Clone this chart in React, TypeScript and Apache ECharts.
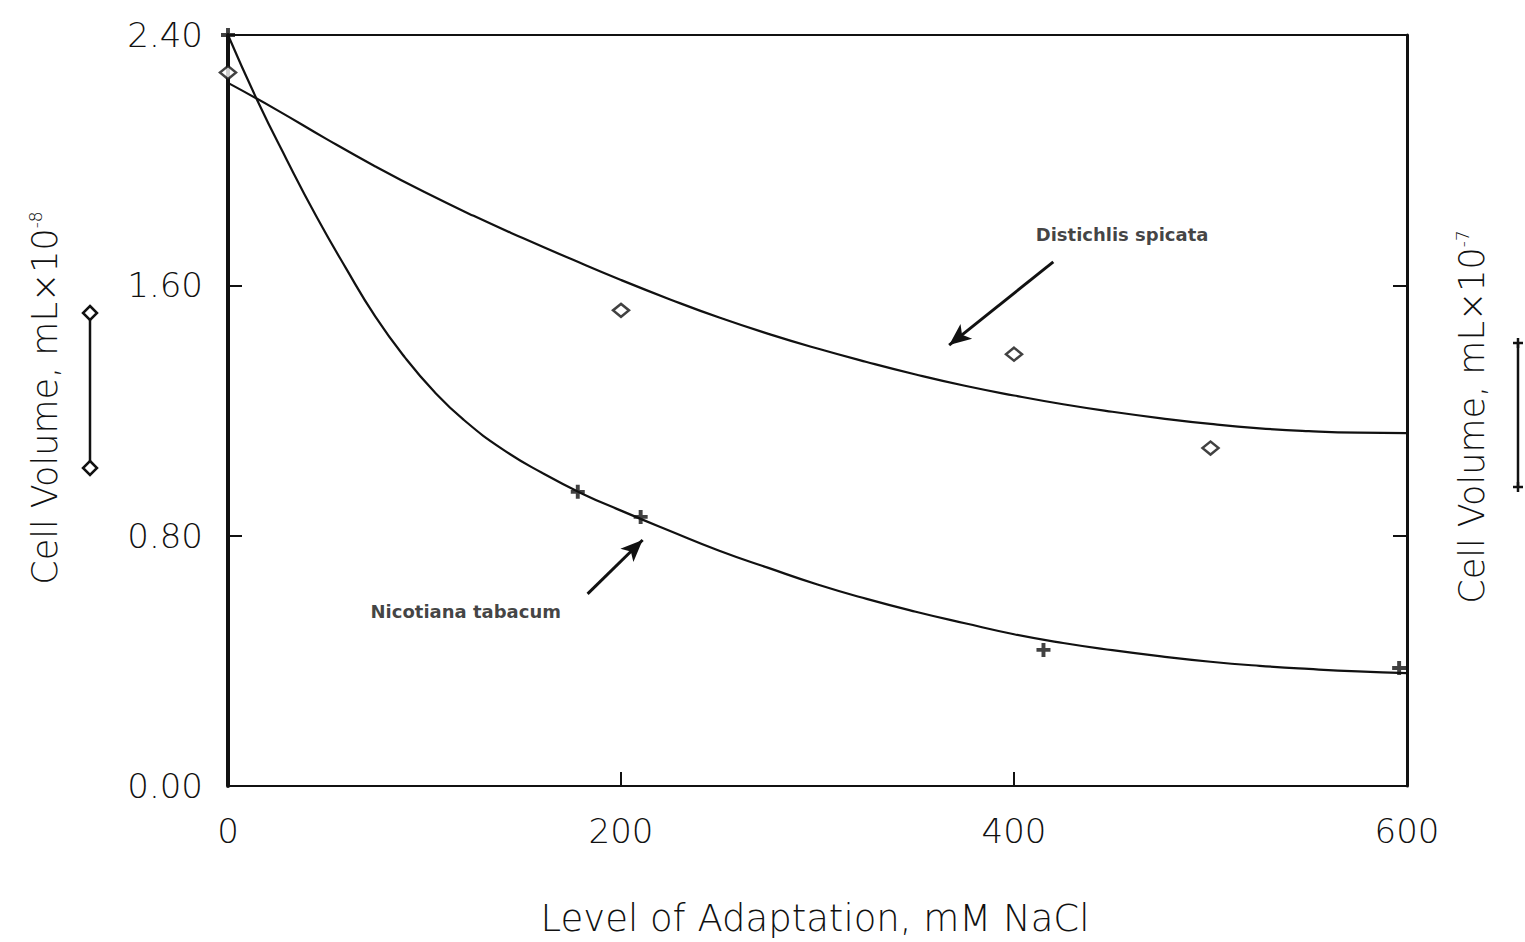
import React, { useEffect, useRef } from "react";
import * as echarts from "echarts";

// ---- Data ----
const xTicks = [0, 200, 400, 600];
const yTickLabels = ["0.00", "0.80", "1.60", "2.40"];

// Distichlis spicata: measured points (diamonds)
const distichlisPoints: [number, number][] = [
  [0, 2.28],
  [200, 1.52],
  [400, 1.38],
  [500, 1.08],
];
// Distichlis spicata: fitted curve
const distichlisCurveX = [0, 25, 50, 75, 100, 125, 150, 175, 200, 225, 250, 275, 300, 325, 350, 375, 400, 425, 450, 475, 500, 525, 550, 575, 600];
const distichlisCurveY = [2.247, 2.16, 2.068, 1.98, 1.898, 1.822, 1.751, 1.683, 1.617, 1.555, 1.497, 1.445, 1.398, 1.355, 1.315, 1.279, 1.248, 1.22, 1.196, 1.175, 1.157, 1.143, 1.134, 1.129, 1.128];

// Nicotiana tabacum: measured points (crosses)
const nicotianaPoints: [number, number][] = [
  [0, 2.4],
  [178, 0.94],
  [210, 0.86],
  [415, 0.435],
  [596, 0.377],
];
// Nicotiana tabacum: fitted curve
const nicotianaCurveX = [0, 15, 30, 45, 60, 75, 90, 105, 120, 140, 160, 180, 200, 225, 250, 275, 300, 325, 350, 375, 400, 425, 450, 475, 500, 525, 550, 575, 600];
const nicotianaCurveY = [2.4, 2.19, 2.0, 1.82, 1.655, 1.5, 1.37, 1.26, 1.17, 1.075, 1.0, 0.935, 0.88, 0.815, 0.752, 0.697, 0.644, 0.598, 0.557, 0.52, 0.485, 0.457, 0.434, 0.414, 0.397, 0.384, 0.374, 0.366, 0.361];

// annotation anchors (data coordinates)
const distichlisLabel: [number, number] = [455, 1.764];
const distichlisArrow: [[number, number], [number, number]] = [[420, 1.675], [367, 1.409]];
const nicotianaLabel: [number, number] = [121, 0.559];
const nicotianaArrow: [[number, number], [number, number]] = [[183, 0.614], [211, 0.786]];

const FONT = "DejaVu Sans";
const INK = "#111";

const plus = "path://M3.6,0H6.4V3.6H10V6.4H6.4V10H3.6V6.4H0V3.6H3.6Z";

export default function App() {
  const ref = useRef<HTMLDivElement>(null);
  useEffect(() => {
    if (!ref.current) return;
    const chart = echarts.init(ref.current, null, { renderer: "svg" });
    const zip = (xs: number[], ys: number[]) => xs.map((x, i) => [x, ys[i]]);
    const option: any = {
      animation: false,
      backgroundColor: "#fff",
      grid: { left: 228, right: 118, top: 35, bottom: 156, containLabel: false },
      xAxis: [
        {
          type: "value",
          min: 0,
          max: 600,
          interval: 200,
          position: "bottom",
          axisLine: { show: true, lineStyle: { color: INK, width: 2 } },
          axisTick: { show: true, inside: true, length: 14, lineStyle: { color: INK, width: 2 } },
          axisLabel: {
            show: true,
            margin: 28,
            fontFamily: FONT,
            fontSize: 34,
            fontWeight: 200,
            color: INK,
            formatter: (v: number) => (xTicks.includes(v) ? String(v) : ""),
          },
          splitLine: { show: false },
        },
        {
          type: "value",
          min: 0,
          max: 600,
          position: "top",
          axisLine: { show: true, onZero: false, lineStyle: { color: INK, width: 2 } },
          axisTick: { show: false },
          axisLabel: { show: false },
          splitLine: { show: false },
        },
      ],
      yAxis: [
        {
          type: "value",
          min: 0,
          max: 2.4,
          interval: 0.8,
          position: "left",
          axisLine: { show: true, lineStyle: { color: INK, width: 4 } },
          axisTick: { show: true, inside: true, length: 14, lineStyle: { color: INK, width: 2 } },
          axisLabel: {
            show: true,
            margin: 25,
            fontFamily: FONT,
            fontSize: 34,
            fontWeight: 200,
            color: INK,
            formatter: (_v: number, i: number) => yTickLabels[i],
          },
          splitLine: { show: false },
        },
        {
          type: "value",
          min: 0,
          max: 2.4,
          interval: 0.8,
          position: "right",
          axisLine: { show: true, onZero: false, lineStyle: { color: INK, width: 3 } },
          axisTick: { show: true, inside: true, length: 14, lineStyle: { color: INK, width: 2 } },
          axisLabel: { show: false },
          splitLine: { show: false },
        },
      ],
      series: [
        {
          type: "line",
          name: "Distichlis spicata fit",
          data: zip(distichlisCurveX, distichlisCurveY),
          smooth: 0.5,
          showSymbol: false,
          lineStyle: { color: INK, width: 2.2 },
        },
        {
          type: "line",
          name: "Nicotiana tabacum fit",
          data: zip(nicotianaCurveX, nicotianaCurveY),
          smooth: 0.5,
          showSymbol: false,
          lineStyle: { color: INK, width: 2.2 },
        },
        {
          type: "scatter",
          name: "Distichlis spicata",
          data: distichlisPoints,
          symbol: "diamond",
          symbolSize: [16, 13],
          itemStyle: { color: "#fff", borderColor: INK, borderWidth: 2.5 },
          z: 5,
        },
        {
          type: "scatter",
          name: "Nicotiana tabacum",
          data: nicotianaPoints,
          symbol: plus,
          symbolSize: 14,
          itemStyle: { color: INK },
          z: 5,
        },
        {
          type: "scatter",
          name: "annotations",
          symbolSize: 0,
          silent: true,
          data: [
            { value: distichlisLabel, label: { formatter: "Distichlis spicata" } },
            { value: nicotianaLabel, label: { formatter: "Nicotiana tabacum" } },
          ],
          label: {
            show: true,
            position: "inside",
            fontFamily: FONT,
            fontWeight: "bold",
            fontSize: 18,
            color: INK,
          },
          markLine: {
            silent: true,
            symbol: ["none", "arrow"],
            symbolSize: [14, 22],
            label: { show: false },
            lineStyle: { color: INK, width: 3, type: "solid" },
            data: [
              [{ coord: distichlisArrow[0] }, { coord: distichlisArrow[1] }],
              [{ coord: nicotianaArrow[0] }, { coord: nicotianaArrow[1] }],
            ],
          },
        },
      ],
      graphic: [
        {
          type: "text",
          x: 815,
          y: 918,
          style: {
            text: "Level of Adaptation, mM NaCl",
            fontFamily: FONT,
            fontSize: 37,
            fontWeight: 200,
            fill: INK,
            align: "center",
            verticalAlign: "middle",
          },
        },
        {
          type: "text",
          x: 45,
          y: 398,
          rotation: Math.PI / 2,
          style: {
            text: "{a|Cell Volume, mL×10}{s|-8}",
            align: "center",
            verticalAlign: "middle",
            rich: {
              a: { fontFamily: FONT, fontSize: 35, fontWeight: 200, fill: INK, color: INK },
              s: { fontFamily: FONT, fontSize: 17, fontWeight: 200, fill: INK, color: INK, verticalAlign: "top" },
            },
          },
        },
        {
          type: "text",
          x: 1472,
          y: 417,
          rotation: Math.PI / 2,
          style: {
            text: "{a|Cell Volume, mL×10}{s|-7}",
            align: "center",
            verticalAlign: "middle",
            rich: {
              a: { fontFamily: FONT, fontSize: 35, fontWeight: 200, fill: INK, color: INK },
              s: { fontFamily: FONT, fontSize: 17, fontWeight: 200, fill: INK, color: INK, verticalAlign: "top" },
            },
          },
        },
        // left key: diamond — line — diamond
        { type: "line", shape: { x1: 90, y1: 320, x2: 90, y2: 461 }, style: { stroke: INK, lineWidth: 2.5 } },
        { type: "polygon", shape: { points: [[90, 306], [97, 313], [90, 320], [83, 313]] }, style: { fill: "#fff", stroke: INK, lineWidth: 2.5 } },
        { type: "polygon", shape: { points: [[90, 461], [97, 468], [90, 475], [83, 468]] }, style: { fill: "#fff", stroke: INK, lineWidth: 2.5 } },
        // right key: cross — line — cross
        { type: "line", shape: { x1: 1518, y1: 343, x2: 1518, y2: 487 }, style: { stroke: INK, lineWidth: 2.5 } },
        { type: "line", shape: { x1: 1513, y1: 343, x2: 1523, y2: 343 }, style: { stroke: INK, lineWidth: 2.5 } },
        { type: "line", shape: { x1: 1513, y1: 487, x2: 1523, y2: 487 }, style: { stroke: INK, lineWidth: 2.5 } },
        { type: "line", shape: { x1: 1518, y1: 338, x2: 1518, y2: 348 }, style: { stroke: INK, lineWidth: 2.5 } },
        { type: "line", shape: { x1: 1518, y1: 482, x2: 1518, y2: 492 }, style: { stroke: INK, lineWidth: 2.5 } },
      ],
    };
    chart.setOption(option);
    return () => chart.dispose();
  }, []);
  return (
    <div
      ref={ref}
      style={{ position: "fixed", left: 0, top: 0, width: 1525, height: 942, background: "#fff" }}
    />
  );
}
